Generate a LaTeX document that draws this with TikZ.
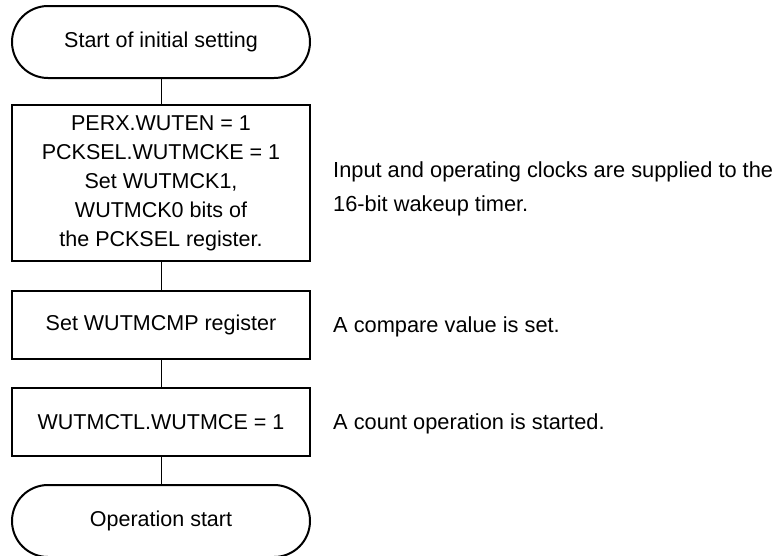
\documentclass[tikz,border=0pt]{standalone}
\usepackage{fontspec}
\setmainfont{Liberation Sans}
\usetikzlibrary{shapes.misc}
\begin{document}
\begin{tikzpicture}[
  x=1pt, y=-1pt,
  box/.style={rectangle, draw, line width=2pt, minimum width=298pt, inner sep=0pt, align=center, font=\fontsize{21.5}{29}\selectfont},
  term/.style={rounded rectangle, draw, line width=2pt, minimum width=298pt, minimum height=72pt, inner sep=0pt, font=\fontsize{21.5}{29}\selectfont},
  note/.style={anchor=west, align=left, inner sep=0pt, font=\fontsize{21.8}{34}\selectfont},
  link/.style={line width=1pt},
]
  \useasboundingbox (0,0) rectangle (777,555);
  \node[term] (st) at (161,42) {Start of initial setting};
  \node[box, minimum height=156pt] (clk) at (161,183) {PERX.WUTEN = 1\\PCKSEL.WUTMCKE = 1\\Set WUTMCK1,\\WUTMCK0 bits of\\the PCKSEL register.};
  \node[box, minimum height=68pt] (cmp) at (161,325) {Set WUTMCMP register};
  \node[box, minimum height=68pt] (ctl) at (161,422) {WUTMCTL.WUTMCE = 1};
  \node[term] (op) at (161,521) {Operation start};
  \node[note] (nclk) at (333,189) {Input and operating clocks are supplied to the\\16-bit wakeup timer.};
  \node[note] (ncmp) at (333,327) {A compare value is set.};
  \node[note] (nctl) at (333,424) {A count operation is started.};
  \draw[link] (st) -- (clk);
  \draw[link] (clk) -- (cmp);
  \draw[link] (cmp) -- (ctl);
  \draw[link] (ctl) -- (op);
\end{tikzpicture}
\end{document}
